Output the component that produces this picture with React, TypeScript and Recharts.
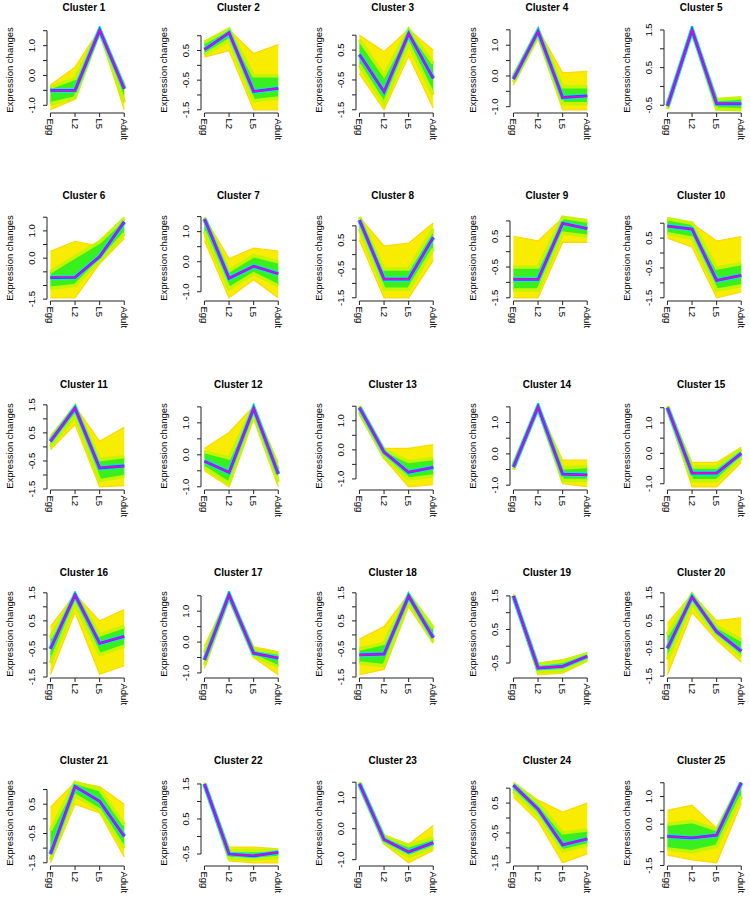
import { ComposedChart, Area, Line, XAxis, YAxis, ReferenceLine } from "recharts"

const stages = ["Egg", "L2", "L5", "Adult"]

// centre line (highest membership) per cluster: Egg, L2, L5, Adult
const centre = [
  [-0.5, -0.5, 1.52, -0.45],
  [0.53, 1.1, -0.88, -0.78],
  [0.35, -0.9, 1.05, -0.45],
  [-0.1, 1.45, -0.7, -0.65],
  [-0.52, 1.5, -0.46, -0.46],
  [-0.71, -0.7, 0.06, 1.33],
  [1.42, -0.55, -0.15, -0.4],
  [1.2, -0.85, -0.85, 0.6],
  [-0.9, -0.9, 0.92, 0.75],
  [0.9, 0.8, -0.92, -0.75],
  [0.2, 1.38, -0.75, -0.68],
  [-0.2, -0.55, 1.45, -0.6],
  [1.45, -0.08, -0.77, -0.6],
  [-0.42, 1.5, -0.65, -0.67],
  [1.5, -0.65, -0.65, 0.0],
  [-0.5, 1.42, -0.3, -0.05],
  [-0.58, 1.53, -0.36, -0.52],
  [-0.71, -0.68, 1.38, -0.1],
  [1.5, -0.65, -0.6, -0.3],
  [-0.5, 1.35, 0.1, -0.6],
  [-1.2, 1.1, 0.6, -0.6],
  [1.5, -0.5, -0.55, -0.45],
  [1.45, -0.35, -0.75, -0.45],
  [1.1, 0.3, -0.9, -0.7],
  [-0.44, -0.5, -0.4, 1.5],
]

// outer (low membership, yellow) envelope
const yellowLow = [
  [-1.15, -0.8, 1.45, -1.15],
  [0.28, 0.5, -1.5, -1.5],
  [-0.3, -1.5, 0.3, -1.45],
  [-0.3, 1.2, -1.1, -1.1],
  [-0.6, 1.48, -0.6, -0.62],
  [-1.45, -1.45, -0.2, 0.72],
  [0.7, -1.2, -0.6, -1.2],
  [0.5, -1.5, -1.5, -0.2],
  [-1.5, -1.5, 0.3, 0.3],
  [0.5, 0.2, -1.5, -1.3],
  [-0.1, 0.8, -1.42, -1.38],
  [-0.5, -1.0, 1.1, -1.0],
  [1.2, -0.3, -1.27, -1.2],
  [-0.5, 1.4, -0.95, -1.05],
  [1.4, -1.1, -1.1, -0.3],
  [-1.42, 0.8, -1.4, -1.1],
  [-0.86, 1.35, -0.5, -1.06],
  [-1.42, -1.23, 1.0, -0.3],
  [1.45, -0.85, -0.8, -0.45],
  [-1.45, 0.8, -0.2, -1.0],
  [-1.5, 0.5, 0.2, -1.3],
  [1.45, -0.7, -0.75, -0.75],
  [1.3, -0.5, -1.1, -0.7],
  [0.7, -0.1, -1.5, -1.2],
  [-1.12, -1.3, -1.4, 0.75],
]

const yellowHigh = [
  [-0.32, 0.28, 1.55, -0.3],
  [0.8, 1.2, 0.4, 0.7],
  [1.0, 0.45, 1.2, 0.5],
  [0.05, 1.52, 0.1, 0.15],
  [-0.45, 1.52, -0.35, -0.3],
  [0.25, 0.62, 0.44, 1.5],
  [1.48, 0.1, 0.45, 0.35],
  [1.3, 0.3, 0.4, 1.1],
  [0.5, 0.35, 1.1, 1.05],
  [1.2, 1.0, 0.4, 0.55],
  [0.4, 1.45, 0.2, 0.7],
  [0.2, 0.7, 1.52, -0.25],
  [1.5, 0.05, 0.05, 0.18],
  [-0.3, 1.52, -0.2, -0.2],
  [1.55, -0.3, -0.3, 0.2],
  [0.3, 1.45, 0.5, 0.9],
  [-0.13, 1.55, -0.15, -0.32],
  [-0.15, 0.3, 1.45, 0.3],
  [1.55, -0.5, -0.4, -0.2],
  [0.4, 1.45, 0.5, 0.6],
  [0.4, 1.25, 1.1, 0.5],
  [1.55, -0.3, -0.3, -0.35],
  [1.5, -0.2, -0.5, 0.1],
  [1.2, 0.6, 0.2, 0.5],
  [0.5, 0.69, -0.15, 1.52],
]

// inner (mid membership, green) envelope
const greenLow = [
  [-0.95, -0.75, 1.48, -0.9],
  [0.35, 0.85, -1.2, -1.1],
  [0.0, -1.3, 0.7, -1.0],
  [-0.2, 1.35, -0.9, -0.9],
  [-0.6, 1.48, -0.6, -0.62],
  [-1.1, -1.0, -0.1, 0.9],
  [1.0, -0.9, -0.4, -0.8],
  [0.9, -1.2, -1.2, 0.2],
  [-1.25, -1.25, 0.6, 0.5],
  [0.65, 0.5, -1.25, -1.1],
  [0.0, 1.1, -1.2, -1.05],
  [-0.4, -0.9, 1.3, -0.85],
  [1.3, -0.25, -1.0, -0.9],
  [-0.5, 1.45, -0.85, -0.85],
  [1.45, -0.9, -0.9, -0.15],
  [-1.0, 1.1, -0.7, -0.4],
  [-0.75, 1.45, -0.45, -0.8],
  [-1.0, -1.1, 1.2, -0.25],
  [1.48, -0.75, -0.72, -0.4],
  [-0.9, 1.1, -0.05, -0.8],
  [-1.4, 0.8, 0.3, -1.0],
  [1.48, -0.62, -0.65, -0.6],
  [1.38, -0.45, -0.9, -0.6],
  [0.9, 0.1, -1.1, -0.9],
  [-0.9, -1.0, -0.8, 1.0],
]

const greenHigh = [
  [-0.4, -0.1, 1.53, -0.35],
  [0.78, 1.22, -0.35, -0.35],
  [0.85, -0.35, 1.2, 0.05],
  [0.0, 1.5, -0.35, -0.35],
  [-0.45, 1.52, -0.35, -0.3],
  [-0.5, 0.05, 0.6, 1.45],
  [1.46, -0.3, 0.2, 0.0],
  [1.3, -0.5, -0.5, 0.9],
  [-0.5, -0.5, 1.12, 1.0],
  [1.15, 1.0, -0.5, -0.35],
  [0.3, 1.45, -0.45, -0.35],
  [0.1, -0.1, 1.5, -0.45],
  [1.5, 0.0, -0.4, -0.3],
  [-0.32, 1.52, -0.45, -0.4],
  [1.55, -0.45, -0.45, 0.15],
  [-0.1, 1.45, 0.0, 0.3],
  [-0.35, 1.55, -0.25, -0.35],
  [-0.5, -0.3, 1.45, 0.25],
  [1.52, -0.55, -0.45, -0.22],
  [0.0, 1.45, 0.3, -0.2],
  [-0.4, 1.25, 1.0, -0.2],
  [1.52, -0.4, -0.4, -0.4],
  [1.5, -0.25, -0.55, -0.3],
  [1.15, 0.5, -0.5, -0.4],
  [0.0, 0.1, -0.2, 1.5],
]

const FONT = '"Liberation Sans", Arial, Helvetica, sans-serif'
const COL_W = 154.3
const ROW_H = 188.3
const W = 154
const H = 188
const LEFT = 47
const TOP = 26
const BOTTOM = 113
const RIGHT = 127.7
const X_DOMAIN = [0.86, 4.14]
const GAP = 11.3

// width of a tick label at 9.5px (Arial metrics)
function labelWidth(s: string) {
  let w = 0
  for (const ch of s) w += ch === "." ? 2.64 : ch === "-" ? 3.16 : 5.28
  return w
}

function makeTicks(lo: number, hi: number) {
  const t: number[] = []
  for (let v = Math.ceil(lo / 0.5) * 0.5; v <= hi + 1e-9; v += 0.5) t.push(Math.round(v * 10) / 10)
  return t
}

// drop labels that would overlap the previous one, like R's axis()
function visibleLabels(ticks: number[], pxPerUnit: number) {
  const shown = new Set<number>()
  let lastEnd = -Infinity
  for (const v of ticks) {
    const w = labelWidth(v.toFixed(1))
    const pos = v * pxPerUnit
    if (pos - w / 2 >= lastEnd) {
      shown.add(v)
      lastEnd = pos + w / 2 + GAP
    }
  }
  return shown
}

function Panel({ k }: { k: number }) {
  const col = k % 5
  const row = Math.floor(k / 5)
  const data = stages.map((s, i) => ({
    x: i + 1,
    stage: s,
    yellow: [yellowLow[k][i], yellowHigh[k][i]],
    green: [greenLow[k][i], greenHigh[k][i]],
    centre: centre[k][i],
  }))
  const all = [...yellowLow[k], ...yellowHigh[k], ...greenLow[k], ...greenHigh[k], ...centre[k]]
  const lo = Math.min(...all)
  const hi = Math.max(...all)
  const pad = 0.04 * (hi - lo)
  const domain = [lo - pad, hi + pad]
  const ticks = makeTicks(domain[0], domain[1])
  const shown = visibleLabels(ticks, (BOTTOM - TOP) / (domain[1] - domain[0]))

  const XTick = ({ x, y, payload }: any) => (
    <text
      transform={`translate(${x},${y}) rotate(90)`}
      textAnchor="start"
      dominantBaseline="central"
      fontSize={9.5}
      fontFamily={FONT}
      fill="#000"
    >
      {stages[payload.value - 1]}
    </text>
  )

  const YTick = ({ x, y, payload }: any) =>
    shown.has(payload.value) ? (
      <text
        transform={`translate(${x},${y}) rotate(-90)`}
        textAnchor="middle"
        dominantBaseline="central"
        fontSize={9.5}
        fontFamily={FONT}
        fill="#000"
      >
        {payload.value.toFixed(1)}
      </text>
    ) : (
      <g />
    )

  return (
    <div style={{ position: "absolute", left: col * COL_W, top: row * ROW_H, width: W, height: H }}>
      <div
        style={{
          position: "absolute",
          left: 34,
          top: 2,
          width: 100,
          height: 12,
          lineHeight: "12px",
          textAlign: "center",
          fontSize: 10,
          fontWeight: "bold",
          fontFamily: FONT,
        }}
      >
        Cluster {k + 1}
      </div>
      <div
        style={{
          position: "absolute",
          left: 10 - 60,
          top: (TOP + BOTTOM) / 2 - 6,
          width: 120,
          height: 12,
          lineHeight: "12px",
          textAlign: "center",
          fontSize: 9.5,
          fontFamily: FONT,
          transform: "rotate(-90deg)",
          whiteSpace: "nowrap",
        }}
      >
        Expression changes
      </div>
      <ComposedChart width={W} height={H} data={data} margin={{ top: TOP, right: W - RIGHT, bottom: 0, left: 0 }}>
        <XAxis
          type="number"
          dataKey="x"
          domain={X_DOMAIN}
          ticks={[1, 2, 3, 4]}
          interval={0}
          allowDataOverflow
          height={H - BOTTOM}
          axisLine={false}
          tickLine={{ stroke: "#222" }}
          tickSize={4}
          tickMargin={1.5}
          tick={<XTick />}
        />
        <YAxis
          type="number"
          domain={domain}
          ticks={ticks}
          interval={0}
          allowDataOverflow
          width={LEFT}
          axisLine={false}
          tickLine={{ stroke: "#222" }}
          tickSize={4}
          tickMargin={11.5}
          tick={<YTick />}
        />
        <Area
          dataKey="yellow"
          type="linear"
          fill="#F8EC00"
          fillOpacity={1}
          stroke="#FFD800"
          strokeWidth={1.2}
          dot={false}
          activeDot={false}
          isAnimationActive={false}
        />
        <Area
          dataKey="green"
          type="linear"
          fill="#38F020"
          fillOpacity={1}
          stroke="#C4F400"
          strokeWidth={3.5}
          dot={false}
          activeDot={false}
          isAnimationActive={false}
        />
        <Line name="cyan" dataKey="centre" type="linear" stroke="#00E8F0" strokeWidth={4.6} dot={false} activeDot={false} isAnimationActive={false} />
        <Line name="blue" dataKey="centre" type="linear" stroke="#2848FF" strokeWidth={2.8} dot={false} activeDot={false} isAnimationActive={false} />
        <Line name="magenta" dataKey="centre" type="linear" stroke="#F000D0" strokeWidth={1.6} dot={false} activeDot={false} isAnimationActive={false} />
        <ReferenceLine
          segment={[
            { x: X_DOMAIN[0], y: ticks[0] },
            { x: X_DOMAIN[0], y: ticks[ticks.length - 1] },
          ]}
          stroke="#222"
          ifOverflow="visible"
        />
        <ReferenceLine
          segment={[
            { x: 1, y: domain[0] },
            { x: 4, y: domain[0] },
          ]}
          stroke="#222"
          ifOverflow="visible"
        />
      </ComposedChart>
    </div>
  )
}

export default function App() {
  return (
    <div
      style={{
        position: "absolute",
        left: 0,
        top: 0,
        width: 750,
        height: 923,
        overflow: "hidden",
        background: "#fff",
        color: "#000",
      }}
    >
      {centre.map((_, k) => (
        <Panel key={k} k={k} />
      ))}
    </div>
  )
}
